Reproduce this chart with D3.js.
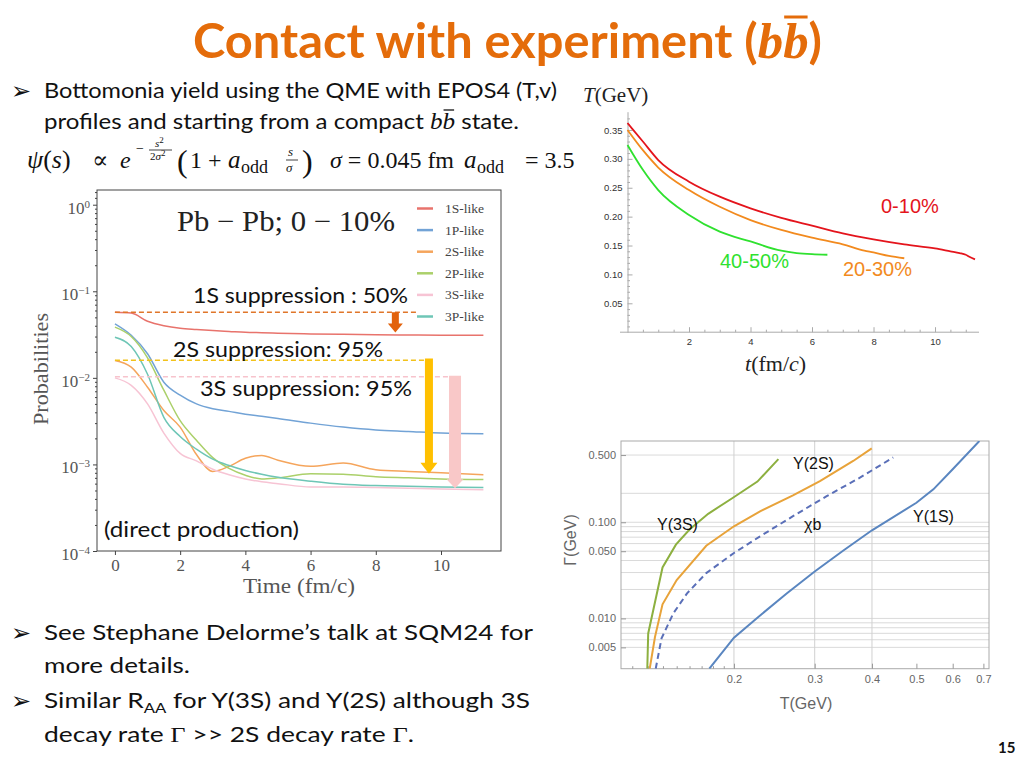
<!DOCTYPE html>
<html><head><meta charset="utf-8">
<script src="https://cdn.jsdelivr.net/npm/d3@7"></script>
<style>body{margin:0;background:#fff} svg{display:block}</style>
</head><body>
<svg id="s" width="1024" height="768"></svg>
<script>
// ---------------- DATA ----------------
// Main chart: probabilities vs time (fm/c)
const timeMain = [0,0.5,1,1.5,2,2.5,3,3.5,4,4.5,5,6,7,8,9,10,11.3];
const stateNames = ["1S-like","1P-like","2S-like","2P-like","3S-like","3P-like"];
const prob1S = [0.0573,0.056,0.045,0.040,0.0374,0.0362,0.0352,0.0344,0.0336,0.0332,0.0328,0.0322,0.0318,0.0315,0.0313,0.0311,0.0310];
const prob1P = [0.042,0.031,0.019,0.0089,0.0063,0.0050,0.0044,0.0041,0.0038,0.0036,0.0034,0.0030,0.0027,0.0025,0.0024,0.0023,0.00226];
const prob2S = [0.0159,0.0133,0.0078,0.0042,0.0027,0.0013,0.00083,0.00095,0.00118,0.00127,0.00112,0.00095,0.00104,0.00087,0.00083,0.00080,0.00076];
const prob2P = [0.0385,0.030,0.017,0.0072,0.0032,0.0019,0.0012,0.0009,0.00075,0.00068,0.0007,0.00078,0.00077,0.00072,0.0007,0.00068,0.00067];
const prob3S = [0.0100,0.0082,0.0050,0.0023,0.00134,0.0011,0.00088,0.00076,0.00068,0.00063,0.0006,0.00055,0.00055,0.00054,0.00053,0.00052,0.00051];
const prob3P = [0.0295,0.023,0.011,0.0035,0.0021,0.0015,0.00115,0.00097,0.00085,0.00077,0.00071,0.00064,0.00059,0.00057,0.00056,0.00055,0.00054];
const probSeries = [prob1S,prob1P,prob2S,prob2P,prob3S,prob3P];
// suppression annotations
const refLevels = [0.0573, 0.016, 0.0103];
const refEndT = [9.25, 9.7, 10.4];
const arrowT = [8.6, 9.63, 10.43];
const arrowFrom = [0.0573, 0.0167, 0.0106];
const arrowTo = [0.0335, 0.00078, 0.00053];
const suppressionLabels = ["1S suppression : 50%","2S suppression: 95%","3S suppression: 95%"];
const yMainTicks = [1e-4,1e-3,1e-2,1e-1,1];
const yMainExps = ["\u22124","\u22123","\u22122","\u22121","0"];
const xMainTicks = [0,2,4,6,8,10];

// Top-right: temperature vs time
const tempLabels = ["0-10%","20-30%","40-50%"];
const tempT010 = [0,0.5,1,2,3,4,5,6,7,8,9,10,10.5,10.8,11,11.1,11.3];
const tempV010 = [0.362,0.330,0.298,0.2605,0.2345,0.2144,0.198,0.1844,0.171,0.1607,0.152,0.145,0.140,0.137,0.134,0.131,0.126];
const tempT2030 = [0,0.5,1,2,3,4,5,6,7,7.7,8,8.5,9];
const tempV2030 = [0.350,0.315,0.285,0.246,0.217,0.194,0.177,0.1636,0.152,0.141,0.138,0.132,0.128];
const tempT4050 = [0,0.5,1,2,3,4,5,5.5,6,6.5];
const tempV4050 = [0.324,0.281,0.246,0.203,0.174,0.157,0.141,0.137,0.135,0.134];
const tempYTicks = [0.05,0.10,0.15,0.20,0.25,0.30,0.35];
const tempXTicks = [2,4,6,8,10];

// Bottom-right: decay width vs temperature
const widthLabels = ["Y(3S)","Y(2S)","\u03C7b","Y(1S)"];
const wT3S = [0.1294,0.130,0.1397,0.1494,0.160,0.1757,0.199,0.225,0.250];
const wG3S = [0.003,0.00697,0.0339,0.0585,0.0839,0.1225,0.18,0.265,0.453];
const wT2S = [0.131,0.1345,0.1397,0.150,0.174,0.200,0.228,0.269,0.308,0.364,0.3995];
const wG2S = [0.003,0.0064,0.014,0.0251,0.057,0.0908,0.130,0.19,0.268,0.434,0.586];
const wTchi = [0.135,0.139,0.1475,0.158,0.174,0.200,0.228,0.269,0.3186,0.3765,0.445];
const wGchi = [0.003,0.0062,0.0113,0.0182,0.0296,0.0479,0.0714,0.1156,0.187,0.291,0.472];
const wT1S = [0.1767,0.200,0.224,0.2606,0.300,0.3465,0.400,0.500,0.5445,0.600,0.686];
const wG1S = [0.003,0.0063,0.010,0.0182,0.0308,0.0509,0.0825,0.1595,0.22,0.356,0.70];
const widthYTicks = [0.5,0.1,0.05,0.01,0.005];
const widthYTickLabels = ["0.500","0.100","0.050","0.010","0.005"];
const widthXTicks = [0.2,0.3,0.4,0.5,0.6,0.7];
const widthGridY = [0.005,0.006,0.007,0.008,0.009,0.01,0.02,0.03,0.04,0.05,0.06,0.07,0.08,0.09,0.1,0.2,0.5];
const widthGridX = [0.2,0.3,0.4];

// ---------------- DRAW ----------------
const svg = d3.select("#s");
svg.append("rect").attr("width",1024).attr("height",768).attr("fill","#fff");
const SANS = "Lato, 'Open Sans', sans-serif";
const SERIF = "'Liberation Serif', 'DejaVu Serif', serif";
const ARIAL = "'Liberation Sans', Arial, sans-serif";

// Title
const title = svg.append("text").attr("x",193).attr("y",58)
  .attr("font-family",SANS).attr("font-weight","bold").attr("font-size",48).attr("fill","#e46c0a")
  .attr("textLength",629).attr("lengthAdjust","spacingAndGlyphs");
title.append("tspan").text("Contact with experiment (");
title.append("tspan").attr("font-family",SERIF).attr("font-style","italic").attr("font-size",50).text("bb");
title.append("tspan").text(")");
function overbar(textSel, idx, dyTop, color, w){
  const node = textSel.node();
  const ext = node.getExtentOfChar(idx);
  svg.append("line").attr("x1",ext.x+1).attr("x2",ext.x+ext.width-1)
    .attr("y1",ext.y+dyTop).attr("y2",ext.y+dyTop).attr("stroke",color).attr("stroke-width",w);
}
overbar(title, 26, 4, "#e46c0a", 3);

// Bullet text lines
function bullet(y){
  svg.append("text").attr("x",11).attr("y",y).attr("font-family","'DejaVu Sans'").attr("font-size",24).attr("fill","#111").text("\u27A2");
}
bullet(99);
svg.append("text").attr("x",44).attr("y",98).attr("font-family",SANS).attr("font-size",22).attr("fill","#111")
  .attr("textLength",513).attr("lengthAdjust","spacingAndGlyphs")
  .text("Bottomonia yield using the QME with EPOS4 (T,v)");
const l2 = svg.append("text").attr("x",44).attr("y",129).attr("font-family",SANS).attr("font-size",22).attr("fill","#111")
  .attr("textLength",475).attr("lengthAdjust","spacingAndGlyphs");
l2.append("tspan").text("profiles and starting from a compact ");
l2.append("tspan").attr("font-family",SERIF).attr("font-style","italic").attr("font-size",23).text("bb");
l2.append("tspan").text(" state.");
overbar(l2, 38, 1, "#111", 1.3);

// Formula line
const F = svg.append("g").attr("font-family",SERIF).attr("fill","#111");
const f1 = F.append("text").attr("x",27).attr("y",168).attr("font-size",26);
f1.append("tspan").attr("font-style","italic").text("\u03C8");
f1.append("tspan").text("(");
f1.append("tspan").attr("font-style","italic").text("s");
f1.append("tspan").text(")");
F.append("text").attr("x",92).attr("y",168).attr("font-size",24).text("\u221D");
F.append("text").attr("x",120).attr("y",168).attr("font-size",24).attr("font-style","italic").text("e");
F.append("text").attr("x",136).attr("y",153).attr("font-size",14).text("\u2212");
const fs2 = F.append("text").attr("x",155).attr("y",147).attr("font-size",11);
fs2.append("tspan").attr("font-style","italic").text("s");
fs2.append("tspan").attr("dy",-4).attr("font-size",9).text("2");
F.append("line").attr("x1",149).attr("x2",172).attr("y1",150).attr("y2",150).attr("stroke","#111").attr("stroke-width",0.8);
const fs3 = F.append("text").attr("x",150).attr("y",160).attr("font-size",11);
fs3.append("tspan").text("2");
fs3.append("tspan").attr("font-style","italic").text("\u03C3");
fs3.append("tspan").attr("dy",-4).attr("font-size",9).text("2");
F.append("text").attr("x",177).attr("y",172).attr("font-size",32).text("(");
F.append("text").attr("x",190).attr("y",168).attr("font-size",24).text("1 +");
F.append("text").attr("x",228).attr("y",168).attr("font-size",25).attr("font-style","italic").text("a");
F.append("text").attr("x",241).attr("y",173).attr("font-size",18).text("odd");
F.append("text").attr("x",288).attr("y",156).attr("font-size",13).attr("font-style","italic").text("s");
F.append("line").attr("x1",286).attr("x2",298).attr("y1",160).attr("y2",160).attr("stroke","#111").attr("stroke-width",0.8);
F.append("text").attr("x",286).attr("y",172).attr("font-size",13).attr("font-style","italic").text("\u03C3");
F.append("text").attr("x",302).attr("y",172).attr("font-size",32).text(")");
const f5 = F.append("text").attr("x",330).attr("y",168).attr("font-size",24);
f5.append("tspan").attr("font-style","italic").text("\u03C3");
f5.append("tspan").text(" = 0.045 fm");
F.append("text").attr("x",464).attr("y",168).attr("font-size",25).attr("font-style","italic").text("a");
F.append("text").attr("x",477).attr("y",173).attr("font-size",18).text("odd");
F.append("text").attr("x",525).attr("y",168).attr("font-size",24).text("= 3.5");

// ---------------- MAIN CHART ----------------
const M = {l:97, r:501, t:190, b:551};
const mx = d3.scaleLinear().domain([-0.55, 11.84]).range([M.l, M.r]);
const my = d3.scaleLog().domain([1e-4, Math.pow(10,0.17)]).range([M.b, M.t]);
const mg = svg.append("g");
svg.append("clipPath").attr("id","mclip").append("rect").attr("x",M.l).attr("y",M.t).attr("width",M.r-M.l).attr("height",M.b-M.t);

// axes
const minorVals = [];
for (let e=-4; e<0; e++) for (let k=2;k<10;k++) minorVals.push(k*Math.pow(10,e));
minorVals.push(1.2,1.4);
mg.append("g").attr("transform",`translate(${M.l},0)`)
  .call(d3.axisLeft(my).tickValues(minorVals.filter(v=>v<=my.domain()[1])).tickSize(2).tickFormat(""))
  .call(g=>g.select(".domain").remove()).call(g=>g.selectAll("line").attr("stroke","#444"));
const yAx = mg.append("g").attr("transform",`translate(${M.l},0)`)
  .call(d3.axisLeft(my).tickValues(yMainTicks).tickSize(4).tickPadding(3).tickFormat(""))
  .call(g=>g.select(".domain").remove()).call(g=>g.selectAll("line").attr("stroke","#444"));
yAx.selectAll(".tick text").each(function(d,i){
  const t = d3.select(this).attr("font-family",SERIF).attr("font-size",17).attr("fill","#555").attr("dy","0.5em");
  t.append("tspan").text("10");
  t.append("tspan").attr("dy","-0.55em").attr("font-size",11).text(yMainExps[i]);
});
const xAx = mg.append("g").attr("transform",`translate(0,${M.b})`)
  .call(d3.axisBottom(mx).tickValues(xMainTicks).tickSize(4).tickPadding(4).tickFormat(d3.format("d")))
  .call(g=>g.select(".domain").remove()).call(g=>g.selectAll("line").attr("stroke","#444"));
xAx.selectAll("text").attr("font-family",SERIF).attr("font-size",17).attr("fill","#555");

// lines
const mColors = ["#e8736c","#72a3d6","#f5a55c","#abd06a","#f7c4d4","#6ec6b6"];
const mLine = d3.line().x((d,i)=>mx(timeMain[i])).y(d=>my(d)).curve(d3.curveMonotoneX);
const lg = mg.append("g").attr("clip-path","url(#mclip)");
probSeries.forEach((s,i)=>{
  lg.append("path").attr("d",mLine(s)).attr("fill","none").attr("stroke",mColors[i]).attr("stroke-width",1.5);
});

// frame
mg.append("rect").attr("x",M.l).attr("y",M.t).attr("width",M.r-M.l).attr("height",M.b-M.t)
  .attr("fill","none").attr("stroke","#444").attr("stroke-width",1);

// reference dashed lines
const refColors = ["#e0762a","#f2c21b","#f7c3cc"];
refLevels.forEach((v,i)=>{
  mg.append("line").attr("x1",mx(0)).attr("x2",mx(refEndT[i])).attr("y1",my(v)).attr("y2",my(v))
    .attr("stroke",refColors[i]).attr("stroke-width",1.5).attr("stroke-dasharray","5,3");
});
// arrows
const arrowColors = ["#e2620c","#ffc000","#f9c8c8"];
const arrowShaft = [7,8,12], arrowHeadW=[15,17,17], arrowHeadL=[9,11,9];
arrowT.forEach((t,i)=>{
  const x = mx(t), y1 = my(arrowFrom[i]), y2 = my(arrowTo[i]);
  const sw=arrowShaft[i]/2, hw=arrowHeadW[i]/2, hl=arrowHeadL[i];
  const p = d3.path();
  p.moveTo(x-sw,y1); p.lineTo(x+sw,y1); p.lineTo(x+sw,y2-hl); p.lineTo(x+hw,y2-hl);
  p.lineTo(x,y2); p.lineTo(x-hw,y2-hl); p.lineTo(x-sw,y2-hl); p.closePath();
  mg.append("path").attr("d",p.toString()).attr("fill",arrowColors[i]);
});

// legend
stateNames.forEach((n,i)=>{
  const y = 208.5 + i*21.6;
  mg.append("line").attr("x1",417).attr("x2",433).attr("y1",y).attr("y2",y).attr("stroke",mColors[i]).attr("stroke-width",2.5);
  mg.append("text").attr("x",445).attr("y",y+4.5).attr("font-family",SERIF).attr("font-size",13.5).attr("fill","#444").text(n);
});
// in-plot title
mg.append("text").attr("x",177).attr("y",231).attr("font-family",SERIF).attr("font-size",29).attr("fill","#222")
  .attr("textLength",218).attr("lengthAdjust","spacingAndGlyphs").text("Pb \u2212 Pb; 0 \u2212 10%");
// annotations
const supPos = [[193,303,215],[173,357,210],[200,396,212]];
suppressionLabels.forEach((s,i)=>{
  mg.append("text").attr("x",supPos[i][0]).attr("y",supPos[i][1]).attr("font-family",SANS).attr("font-size",21)
    .attr("fill","#111").attr("textLength",supPos[i][2]).attr("lengthAdjust","spacingAndGlyphs").text(s);
});
mg.append("text").attr("x",104).attr("y",537).attr("font-family",SANS).attr("font-size",21).attr("fill","#111")
  .attr("textLength",195).attr("lengthAdjust","spacingAndGlyphs").text("(direct production)");
// axis labels
mg.append("text").attr("transform","translate(48,369) rotate(-90)").attr("text-anchor","middle")
  .attr("font-family",SERIF).attr("font-size",21).attr("fill","#555").attr("textLength",112).attr("lengthAdjust","spacingAndGlyphs").text("Probabilities");
mg.append("text").attr("x",299).attr("y",593).attr("text-anchor","middle")
  .attr("font-family",SERIF).attr("font-size",21).attr("fill","#555").attr("textLength",112).attr("lengthAdjust","spacingAndGlyphs").text("Time (fm/c)");

// ---------------- TOP-RIGHT: T vs t ----------------
const tx = d3.scaleLinear().domain([0, 11.43]).range([627.5, 979]);
const ty = d3.scaleLinear().domain([0, 0.3816]).range([332.2, 111.7]);
const tg = svg.append("g");
const tMinorY = d3.range(1,38).map(k=>k*0.01).filter(v=>Math.round(v*100)%5!==0);
tg.append("g").attr("transform","translate(627.5,0)")
  .call(d3.axisLeft(ty).tickValues(tMinorY).tickSize(-2.5).tickFormat(""))
  .call(g=>g.select(".domain").remove()).call(g=>g.selectAll("line").attr("stroke","#aaa"));
const tyAx = tg.append("g").attr("transform","translate(627.5,0)")
  .call(d3.axisLeft(ty).tickValues(tempYTicks).tickSize(-5).tickSizeOuter(0).tickPadding(5).tickFormat(d3.format(".2f")));
tyAx.select(".domain").attr("stroke","#aaa");
tyAx.selectAll("line").attr("stroke","#aaa");
tyAx.selectAll("text").attr("font-family",ARIAL).attr("font-size",9.5).attr("fill","#333");
const tMinorX = d3.range(1,23).map(k=>k*0.5).filter(v=>v%2!==0);
tg.append("g").attr("transform","translate(0,332.2)")
  .call(d3.axisBottom(tx).tickValues(tMinorX).tickSize(-2.5).tickFormat(""))
  .call(g=>g.select(".domain").remove()).call(g=>g.selectAll("line").attr("stroke","#aaa"));
const txAx = tg.append("g").attr("transform","translate(0,332.2)")
  .call(d3.axisBottom(tx).tickValues(tempXTicks).tickSize(-5).tickSizeOuter(0).tickPadding(6).tickFormat(d3.format("d")));
txAx.select(".domain").remove();
txAx.selectAll("line").attr("stroke","#aaa");
txAx.selectAll("text").attr("font-family",ARIAL).attr("font-size",9.5).attr("fill","#333");
tg.append("line").attr("x1",620).attr("x2",979).attr("y1",332.2).attr("y2",332.2).attr("stroke","#aaa");
const tempColors = ["#e4141c","#f28a1e","#2fe12f"];
const tLine = (ts)=> d3.line().x((d,i)=>tx(ts[i])).y(d=>ty(d)).curve(d3.curveMonotoneX);
[[tempT010,tempV010],[tempT2030,tempV2030],[tempT4050,tempV4050]].forEach((s,i)=>{
  tg.append("path").attr("d",tLine(s[0])(s[1])).attr("fill","none").attr("stroke",tempColors[i]).attr("stroke-width",1.8);
});
const tLabPos = [[881,213],[843,276],[720,268]];
tempLabels.forEach((s,i)=>{
  tg.append("text").attr("x",tLabPos[i][0]).attr("y",tLabPos[i][1]).attr("font-family",ARIAL).attr("font-size",20)
    .attr("fill",tempColors[i]).text(s);
});
const tyl = tg.append("text").attr("x",583).attr("y",102).attr("font-family",SERIF).attr("font-size",21).attr("fill","#222");
tyl.append("tspan").attr("font-style","italic").text("T");
tyl.append("tspan").text("(GeV)");
const txl = tg.append("text").attr("x",745).attr("y",371).attr("font-family",SERIF).attr("font-size",22).attr("fill","#222");
txl.append("tspan").attr("font-style","italic").text("t");
txl.append("tspan").text("(fm/");
txl.append("tspan").attr("font-style","italic").text("c");
txl.append("tspan").text(")");

// ---------------- BOTTOM-RIGHT: Gamma vs T ----------------
const gx = d3.scaleLog().domain([0.1134, 0.72]).range([621, 989]);
const gy = d3.scaleLog().domain([0.003, 0.70]).range([668.7, 441]);
const gg = svg.append("g");
svg.append("clipPath").attr("id","gclip").append("rect").attr("x",621).attr("y",441).attr("width",368).attr("height",227.7);
gg.selectAll(".gh").data(widthGridY).join("line").attr("x1",621).attr("x2",989)
  .attr("y1",d=>gy(d)).attr("y2",d=>gy(d)).attr("stroke","#dadada").attr("stroke-width",1);
gg.selectAll(".gv").data(widthGridX).join("line").attr("y1",441).attr("y2",668.7)
  .attr("x1",d=>gx(d)).attr("x2",d=>gx(d)).attr("stroke","#d0d0d0").attr("stroke-width",1);
gg.append("rect").attr("x",621).attr("y",441).attr("width",368).attr("height",227.7).attr("fill","none").attr("stroke","#aaa");
// frame ticks
const gyAx = gg.append("g").attr("transform","translate(621,0)")
  .call(d3.axisLeft(gy).tickValues(widthYTicks).tickSize(-5).tickSizeOuter(0).tickPadding(5).tickFormat((d,i)=>widthYTickLabels[i]));
gyAx.select(".domain").remove();
gyAx.selectAll("line").attr("stroke","#999");
gyAx.selectAll("text").attr("font-family",ARIAL).attr("font-size",11).attr("fill","#666");
const gxMinor = [0.12,0.13,0.14,0.15,0.16,0.17,0.18,0.19];
gg.append("g").attr("transform","translate(0,668.7)")
  .call(d3.axisBottom(gx).tickValues(gxMinor).tickSize(-2.5).tickFormat(""))
  .call(g=>g.select(".domain").remove()).call(g=>g.selectAll("line").attr("stroke","#999"));
const gxAx = gg.append("g").attr("transform","translate(0,668.7)")
  .call(d3.axisBottom(gx).tickValues(widthXTicks).tickSize(-5).tickSizeOuter(0).tickPadding(7).tickFormat(d3.format(".1f")));
gxAx.select(".domain").remove();
gxAx.selectAll("line").attr("stroke","#999");
gxAx.selectAll("text").attr("font-family",ARIAL).attr("font-size",11).attr("fill","#666");
const widthColors = ["#8db040","#e8a33a","#5a6fb8","#5a86c0"];
const gLine = (ts)=> d3.line().x((d,i)=>gx(ts[i])).y(d=>gy(d));
const cg = gg.append("g").attr("clip-path","url(#gclip)");
[[wT3S,wG3S],[wT2S,wG2S],[wTchi,wGchi],[wT1S,wG1S]].forEach((s,i)=>{
  cg.append("path").attr("d",gLine(s[0])(s[1])).attr("fill","none").attr("stroke",widthColors[i])
    .attr("stroke-width",2).attr("stroke-dasharray", i===2 ? "6,4" : null);
});
const wLabPos = [[657,530],[793,469],[804,530],[913,522]];
widthLabels.forEach((s,i)=>{
  gg.append("text").attr("x",wLabPos[i][0]).attr("y",wLabPos[i][1]).attr("font-family",ARIAL).attr("font-size",16)
    .attr("fill","#111").text(s);
});
gg.append("text").attr("x",806).attr("y",709).attr("text-anchor","middle").attr("font-family",ARIAL).attr("font-size",16).attr("fill","#666").text("T(GeV)");
gg.append("text").attr("transform","translate(576,540) rotate(-90)").attr("text-anchor","middle").attr("font-family",ARIAL).attr("font-size",16).attr("fill","#666").text("\u0393(GeV)");

// ---------------- Bottom bullets ----------------
bullet(641);
svg.append("text").attr("x",44).attr("y",640).attr("font-family",SANS).attr("font-size",22).attr("fill","#111")
  .attr("textLength",489).attr("lengthAdjust","spacingAndGlyphs").text("See Stephane Delorme\u2019s talk at SQM24 for");
svg.append("text").attr("x",44).attr("y",673).attr("font-family",SANS).attr("font-size",22).attr("fill","#111")
  .attr("textLength",146).attr("lengthAdjust","spacingAndGlyphs").text("more details.");
bullet(709);
const b3 = svg.append("text").attr("x",44).attr("y",708).attr("font-family",SANS).attr("font-size",22).attr("fill","#111")
  .attr("textLength",486).attr("lengthAdjust","spacingAndGlyphs");
b3.append("tspan").text("Similar R");
b3.append("tspan").attr("font-size",14).attr("dy",5).text("AA");
b3.append("tspan").attr("dy",-5).text(" for Y(3S) and Y(2S) although 3S");
const b4 = svg.append("text").attr("x",44).attr("y",742).attr("font-family",SANS).attr("font-size",22).attr("fill","#111")
  .attr("textLength",370).attr("lengthAdjust","spacingAndGlyphs");
b4.append("tspan").text("decay rate ");
b4.append("tspan").attr("font-family",SERIF).text("\u0393");
b4.append("tspan").text(" >> 2S decay rate ");
b4.append("tspan").attr("font-family",SERIF).text("\u0393");
b4.append("tspan").text(".");
svg.append("text").attr("x",998).attr("y",753).attr("font-family",SANS).attr("font-weight","bold").attr("font-size",15).attr("fill","#111").text("15");
</script>
</body></html>
